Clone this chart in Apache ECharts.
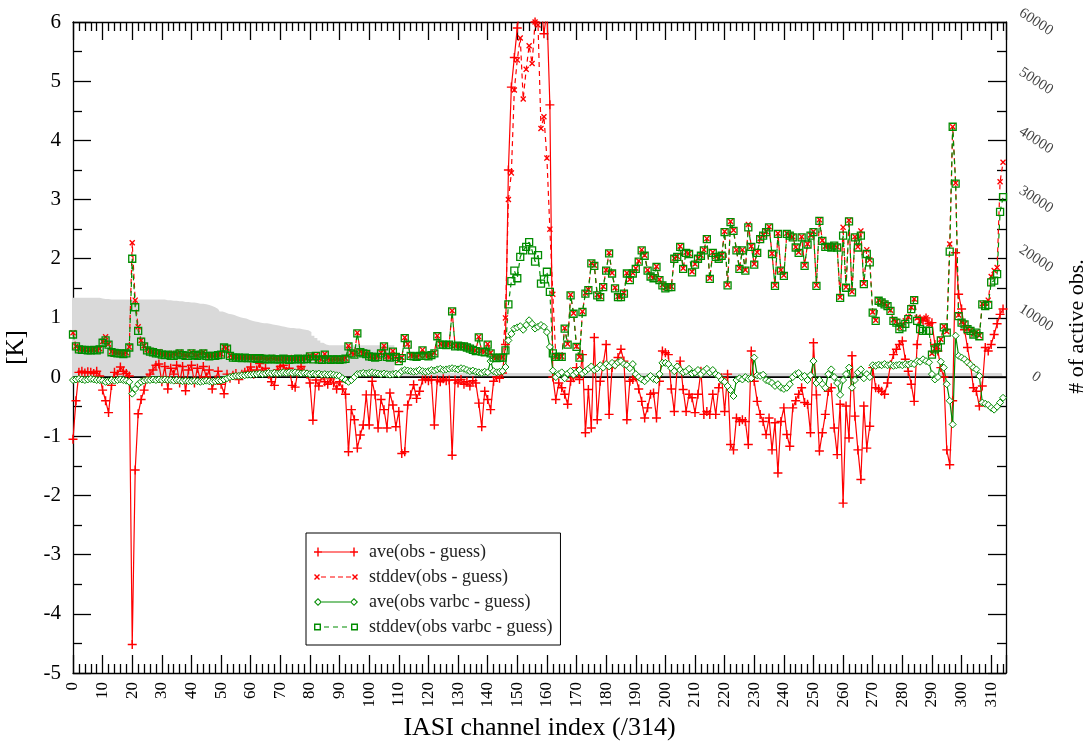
<!DOCTYPE html>
<html>
<head>
<meta charset="utf-8">
<title>IASI channel statistics</title>
<script src="https://cdn.jsdelivr.net/npm/echarts@6/dist/echarts.min.js"></script>
<style>
html, body { margin: 0; padding: 0; background: #fff; }
#chart { width: 1083px; height: 744px; }
</style>
</head>
<body>
<div id="chart"></div>
<script>
// channel index 0..314
const channels = Array.from({length: 315}, (_, i) => i);

// ave(obs - guess) [K]
const aveObs = [
  -1.05, -0.40, 0.08, 0.10, 0.07, 0.09, 0.08, 0.06, 0.10, 0.02,
  -0.22, -0.40, -0.60, -0.14, 0.08, 0.05, 0.17, 0.10, 0.06, 0.02,
  -4.52, -1.57, -0.62, -0.38, -0.22, -0.02, 0.05, 0.12, 0.20, 0.22,
  -0.08, 0.18, -0.20, 0.15, 0.05, 0.20, -0.10, 0.18, -0.23, 0.12,
  0.20, -0.10, 0.15, -0.05, 0.18, 0.00, 0.12, -0.20, -0.05, 0.10,
  -0.12, -0.28, 0.05, -0.02, 0.03, 0.06, -0.04, 0.05, 0.08, 0.10,
  0.17, 0.05, 0.12, 0.23, 0.10, 0.15, 0.05, -0.08, -0.14, 0.12,
  0.18, 0.20, 0.10, 0.15, -0.14, -0.17, 0.12, 0.18, 0.10, 0.05,
  -0.10, -0.73, -0.05, -0.15, 0.02, -0.08, -0.12, -0.03, -0.10, -0.20,
  -0.08, -0.20, -0.29, -1.26, -0.55, -0.72, -1.20, -0.98, -0.81, -0.30,
  -0.81, -0.07, -0.30, -0.86, -0.38, -0.55, -0.86, -0.27, -0.47, -0.84,
  -0.58, -1.29, -1.26, -0.47, -0.30, -0.13, -0.36, -0.24, -0.05, -0.03,
  -0.06, -0.04, -0.81, -0.05, -0.08, -0.03, -0.06, -0.05, -1.32, -0.05,
  -0.10, -0.04, -0.12, -0.08, -0.15, -0.06, -0.10, -0.44, -0.84, -0.24,
  -0.38, -0.55, -0.07, 0.00, -0.02, 0.07, 0.55, 3.50, 4.90, 5.40,
  5.90, 6.30, 6.50, 6.40, 6.60, 6.20, 6.00, 6.50, 6.30, 5.80,
  6.20, 4.60, 0.00, -0.38, -0.10, -0.18, -0.29, -0.46, -0.07, -0.01,
  0.16, -0.04, 0.38, -0.94, -0.21, -0.86, 0.67, -0.72, -0.07, 0.21,
  0.55, -0.63, 0.16, 0.21, 0.33, 0.47, 0.27, -0.72, -0.07, -0.04,
  0.00, -0.20, -0.41, -0.69, -0.52, -0.29, -0.27, -0.69, -0.07, 0.44,
  0.41, 0.38, -0.20, -0.58, 0.16, 0.27, -0.21, -0.58, -0.29, -0.35,
  -0.60, -0.29, 0.10, -0.63, -0.58, -0.63, -0.29, -0.63, -0.18, -0.01,
  -0.58, 0.05, -1.14, -1.23, -0.69, -0.75, -0.72, -0.75, -1.14, 0.44,
  -0.07, -0.41, -0.63, -0.75, -0.97, -0.69, -1.23, -0.77, -1.62, -0.75,
  -0.52, -0.97, -1.17, -0.52, -0.40, -0.29, -0.18, -0.43, -0.46, -0.94,
  0.58, -0.30, -1.25, -0.94, -0.63, -0.24, -0.18, -0.86, -1.31, -0.46,
  -2.13, -0.49, -1.03, 0.36, -0.66, -1.23, -1.73, -0.49, -1.20, -0.83,
  0.16, -0.18, -0.20, -0.24, -0.29, -0.10, 0.21, 0.38, 0.47, 0.55,
  0.61, 0.30, 0.10, -0.12, -0.41, 0.55, 0.98, 0.95, 1.00, 0.90,
  0.92, 0.55, 0.44, 0.16, 0.00, -1.23, -1.48, -0.40, 2.10, 1.40,
  1.15, 0.80, 0.50, 0.21, -0.18, -0.24, -0.49, -0.15, 0.50, 0.44,
  0.55, 0.72, 0.90, 1.06, 1.15
];

// stddev(obs - guess) [K]
const sdObs = [
  0.75, 0.52, 0.48, 0.47, 0.47, 0.46, 0.46, 0.47, 0.46, 0.48,
  0.60, 0.68, 0.56, 0.43, 0.42, 0.41, 0.41, 0.40, 0.41, 0.51,
  2.27, 1.30, 0.85, 0.62, 0.53, 0.46, 0.45, 0.43, 0.42, 0.43,
  0.40, 0.38, 0.40, 0.37, 0.40, 0.39, 0.42, 0.38, 0.37, 0.38,
  0.42, 0.38, 0.37, 0.40, 0.42, 0.37, 0.36, 0.38, 0.37, 0.38,
  0.39, 0.51, 0.49, 0.37, 0.34, 0.34, 0.34, 0.33, 0.34, 0.33,
  0.33, 0.33, 0.32, 0.33, 0.33, 0.32, 0.31, 0.33, 0.32, 0.31,
  0.31, 0.32, 0.31, 0.33, 0.31, 0.32, 0.32, 0.31, 0.33, 0.32,
  0.36, 0.32, 0.37, 0.31, 0.30, 0.39, 0.31, 0.30, 0.31, 0.31,
  0.30, 0.31, 0.32, 0.53, 0.41, 0.39, 0.75, 0.43, 0.41, 0.40,
  0.36, 0.35, 0.34, 0.35, 0.41, 0.53, 0.35, 0.34, 0.44, 0.35,
  0.28, 0.33, 0.67, 0.56, 0.37, 0.36, 0.35, 0.37, 0.46, 0.37,
  0.36, 0.38, 0.41, 0.70, 0.56, 0.56, 0.55, 0.56, 1.12, 0.53,
  0.54, 0.53, 0.53, 0.51, 0.49, 0.47, 0.45, 0.68, 0.44, 0.43,
  0.56, 0.41, 0.34, 0.33, 0.34, 0.34, 1.00, 3.00, 3.45, 4.85,
  5.36, 5.73, 4.70, 5.20, 5.60, 5.30, 6.00, 5.95, 4.20, 4.40,
  3.70, 2.50, 1.40, 0.35, 0.35, 0.35, 0.83, 0.56, 1.39, 1.08,
  0.52, 0.34, 1.11, 1.42, 1.48, 1.93, 1.89, 1.39, 1.36, 1.53,
  1.81, 2.10, 1.76, 1.51, 1.36, 1.36, 1.42, 1.76, 1.65, 1.76,
  1.84, 1.96, 2.15, 2.06, 1.81, 1.71, 1.68, 1.87, 1.65, 1.56,
  1.51, 1.53, 1.53, 2.01, 2.04, 2.21, 1.84, 2.11, 2.09, 1.78,
  1.91, 2.01, 2.06, 2.15, 2.34, 1.67, 2.11, 2.04, 2.01, 2.06,
  2.46, 1.56, 2.63, 2.48, 2.15, 1.84, 2.15, 1.81, 2.58, 2.21,
  1.91, 2.11, 2.34, 2.40, 2.46, 2.54, 2.09, 1.55, 2.43, 1.81,
  1.72, 2.43, 2.40, 2.37, 2.20, 2.11, 2.37, 1.89, 2.25, 2.40,
  2.46, 1.55, 2.66, 2.31, 2.21, 2.21, 2.20, 2.23, 2.20, 1.35,
  2.53, 1.52, 2.65, 1.44, 2.37, 2.20, 2.47, 1.58, 2.15, 1.98,
  1.10, 0.96, 1.30, 1.27, 1.24, 1.21, 1.13, 0.97, 0.94, 0.84,
  0.88, 0.95, 1.02, 1.18, 1.32, 1.00, 0.95, 0.98, 1.00, 0.90,
  0.40, 0.48, 0.51, 0.64, 0.86, 0.77, 2.25, 4.23, 3.28, 1.05,
  0.93, 0.90, 0.82, 0.79, 0.73, 0.76, 0.70, 1.24, 1.25, 1.30,
  1.70, 1.80, 1.85, 3.30, 3.63
];

// ave(obs varbc - guess) [K]
const aveVarbc = [
  -0.05, -0.04, -0.03, -0.04, -0.05, -0.04, -0.03, -0.04, -0.05, -0.05,
  -0.06, -0.08, -0.07, -0.05, -0.06, -0.05, -0.04, -0.05, -0.06, -0.08,
  -0.28, -0.20, -0.12, -0.08, -0.06, -0.05, -0.05, -0.04, -0.05, -0.04,
  -0.05, -0.04, -0.05, -0.05, -0.06, -0.05, -0.06, -0.07, -0.06, -0.07,
  -0.07, -0.06, -0.07, -0.08, -0.07, -0.06, -0.07, -0.08, -0.07, -0.06,
  -0.06, -0.04, -0.02, 0.00, 0.01, 0.02, 0.02, 0.03, 0.03, 0.04,
  0.04, 0.05, 0.05, 0.06, 0.05, 0.06, 0.07, 0.06, 0.07, 0.06,
  0.07, 0.08, 0.07, 0.08, 0.07, 0.08, 0.07, 0.06, 0.07, 0.06,
  0.05, 0.06, 0.05, 0.06, 0.04, 0.05, 0.04, 0.05, 0.04, 0.03,
  0.02, -0.02, -0.05, -0.08, -0.05, 0.00, 0.05, 0.06, 0.07, 0.06,
  0.07, 0.08, 0.07, 0.06, 0.05, 0.06, 0.05, 0.04, 0.05, 0.06,
  0.05, 0.10, 0.12, 0.11, 0.10, 0.09, 0.10, 0.12, 0.10, 0.09,
  0.10, 0.12, 0.11, 0.13, 0.14, 0.12, 0.13, 0.14, 0.15, 0.14,
  0.13, 0.15, 0.14, 0.12, 0.10, 0.11, 0.09, 0.08, 0.07, 0.09,
  0.08, 0.27, 0.10, 0.08, 0.09, 0.10, 0.17, 0.62, 0.73, 0.82,
  0.84, 0.86, 0.80, 0.88, 0.96, 0.90, 0.82, 0.85, 0.88, 0.85,
  0.76, 0.51, 0.11, 0.00, 0.05, 0.08, -0.02, 0.06, 0.10, 0.04,
  0.08, 0.12, 0.06, 0.10, 0.14, 0.18, 0.12, 0.15, 0.20, 0.16,
  0.22, 0.18, 0.24, 0.20, 0.25, 0.27, 0.22, 0.20, 0.15, 0.22,
  0.05, 0.00, -0.04, -0.07, -0.02, 0.02, -0.03, -0.05, 0.05, 0.24,
  0.24, 0.22, 0.15, 0.10, 0.18, 0.12, 0.08, 0.10, 0.14, 0.06,
  0.08, 0.12, 0.05, 0.10, 0.14, 0.08, 0.12, 0.05, 0.02, -0.05,
  -0.08, -0.15, -0.22, -0.32, -0.05, -0.02, -0.04, 0.00, -0.03, -0.02,
  0.33, 0.03, 0.02, 0.04, -0.05, -0.07, -0.10, -0.15, -0.12, -0.18,
  -0.20, -0.18, -0.12, 0.00, 0.05, 0.07, 0.00, 0.02, -0.05, 0.03,
  0.27, -0.10, -0.05, -0.12, -0.18, 0.05, 0.13, 0.00, -0.10, -0.30,
  -0.05, 0.05, 0.16, -0.18, -0.05, 0.08, 0.13, -0.02, 0.05, 0.00,
  0.20, 0.19, 0.21, 0.20, 0.22, 0.20, 0.21, 0.19, 0.20, 0.21,
  0.20, 0.22, 0.21, 0.23, 0.22, 0.27, 0.26, 0.30, 0.27, 0.25,
  0.05, -0.04, 0.00, 0.26, 0.16, -0.12, -0.40, -0.80, 0.70, 0.36,
  0.33, 0.30, 0.25, 0.21, 0.16, 0.13, 0.02, -0.43, -0.45, -0.47,
  -0.52, -0.55, -0.50, -0.43, -0.35
];

// stddev(obs varbc - guess) [K]
const sdVarbc = [
  0.72, 0.52, 0.47, 0.46, 0.46, 0.45, 0.45, 0.46, 0.45, 0.47,
  0.58, 0.62, 0.55, 0.42, 0.41, 0.40, 0.40, 0.39, 0.40, 0.50,
  2.00, 1.18, 0.78, 0.60, 0.52, 0.45, 0.43, 0.42, 0.40, 0.40,
  0.38, 0.37, 0.38, 0.36, 0.36, 0.38, 0.40, 0.37, 0.36, 0.36,
  0.40, 0.37, 0.36, 0.38, 0.40, 0.36, 0.35, 0.36, 0.36, 0.37,
  0.38, 0.50, 0.48, 0.36, 0.33, 0.33, 0.33, 0.32, 0.33, 0.32,
  0.32, 0.32, 0.31, 0.32, 0.31, 0.30, 0.30, 0.31, 0.30, 0.30,
  0.30, 0.31, 0.30, 0.29, 0.30, 0.30, 0.31, 0.30, 0.30, 0.31,
  0.35, 0.30, 0.36, 0.30, 0.29, 0.38, 0.30, 0.29, 0.30, 0.30,
  0.29, 0.30, 0.31, 0.52, 0.40, 0.38, 0.74, 0.42, 0.40, 0.39,
  0.35, 0.34, 0.33, 0.34, 0.40, 0.52, 0.34, 0.33, 0.43, 0.34,
  0.27, 0.32, 0.66, 0.55, 0.36, 0.35, 0.34, 0.36, 0.45, 0.36,
  0.35, 0.37, 0.40, 0.69, 0.55, 0.55, 0.54, 0.55, 1.11, 0.52,
  0.53, 0.52, 0.52, 0.50, 0.48, 0.46, 0.44, 0.67, 0.43, 0.42,
  0.55, 0.40, 0.33, 0.32, 0.33, 0.33, 0.45, 1.23, 1.62, 1.80,
  1.67, 2.03, 2.14, 2.20, 2.28, 2.14, 1.95, 2.06, 1.58, 1.65,
  1.78, 1.44, 0.40, 0.34, 0.34, 0.34, 0.82, 0.55, 1.38, 1.07,
  0.51, 0.33, 1.10, 1.41, 1.47, 1.92, 1.88, 1.38, 1.35, 1.52,
  1.80, 2.09, 1.75, 1.50, 1.35, 1.35, 1.41, 1.75, 1.64, 1.75,
  1.83, 1.95, 2.14, 2.05, 1.80, 1.70, 1.67, 1.86, 1.64, 1.55,
  1.50, 1.52, 1.52, 2.00, 2.03, 2.20, 1.83, 2.10, 2.08, 1.77,
  1.90, 2.00, 2.05, 2.14, 2.33, 1.66, 2.10, 2.03, 2.00, 2.05,
  2.45, 1.55, 2.62, 2.47, 2.14, 1.83, 2.14, 1.80, 2.53, 2.20,
  1.90, 2.10, 2.33, 2.39, 2.45, 2.53, 2.08, 1.54, 2.42, 1.80,
  1.71, 2.42, 2.39, 2.36, 2.19, 2.10, 2.36, 1.88, 2.24, 2.39,
  2.45, 1.54, 2.64, 2.30, 2.20, 2.20, 2.19, 2.22, 2.19, 1.34,
  2.39, 1.51, 2.63, 1.43, 2.36, 2.19, 2.39, 1.57, 2.08, 1.94,
  1.09, 0.95, 1.29, 1.26, 1.23, 1.20, 1.12, 0.95, 0.92, 0.81,
  0.84, 0.90, 0.98, 1.15, 1.30, 0.95, 0.81, 0.78, 0.78, 0.78,
  0.38, 0.47, 0.50, 0.62, 0.84, 0.75, 2.12, 4.23, 3.27, 1.03,
  0.92, 0.89, 0.81, 0.78, 0.72, 0.75, 0.69, 1.23, 1.20, 1.22,
  1.60, 1.63, 1.74, 2.79, 3.04
];

// # of active obs (right axis)
const activeObs = [
  13400, 13400, 13400, 13400, 13400, 13400, 13400, 13400, 13400, 13400,
  13300, 13200, 13200, 13100, 13100, 13100, 13100, 13100, 13100, 13100,
  13100, 13100, 13100, 13100, 13100, 13100, 13100, 13100, 13100, 13100,
  13100, 13100, 13000, 13000, 12900, 12900, 12800, 12800, 12700, 12700,
  12600, 12600, 12500, 12400, 12400, 12300, 12200, 12000, 11800, 11500,
  11100, 10900, 10700, 10600, 10500, 10300, 10100, 10000, 9900, 9700,
  9500, 9400, 9300, 9200, 9100, 9100, 9000, 8900, 8800, 8700,
  8600, 8500, 8400, 8300, 8300, 8200, 8200, 8100, 8000, 7900,
  7600, 7000, 6600, 6200, 5800, 5500, 5400, 5400, 5400, 5400,
  5400, 5400, 5400, 5400, 5400, 5400, 5400, 5400, 5400, 5400,
  5400, 5400, 5400, 5400, 5400, 5400, 5400, 5400, 5400, 700,
  700, 700, 700, 700, 700, 700, 700, 700, 700, 700,
  700, 700, 700, 700, 700, 700, 700, 700, 700, 700,
  700, 700, 700, 700, 700, 700, 700, 700, 700, 700,
  700, 700, 700, 700, 700, 700, 700, 700, 700, 700,
  700, 700, 700, 700, 700, 700, 700, 700, 700, 700,
  700, 700, 700, 700, 700, 700, 700, 700, 700, 700,
  700, 700, 700, 700, 700, 700, 700, 700, 700, 700,
  700, 700, 700, 700, 700, 700, 700, 700, 700, 700,
  700, 700, 700, 700, 700, 700, 700, 700, 700, 700,
  700, 700, 700, 700, 700, 700, 700, 700, 700, 700,
  700, 700, 700, 700, 700, 700, 700, 700, 700, 700,
  700, 700, 700, 700, 700, 700, 700, 700, 700, 700,
  700, 700, 700, 700, 700, 700, 700, 700, 700, 700,
  700, 700, 700, 700, 700, 700, 700, 700, 700, 700,
  700, 700, 700, 700, 700, 700, 700, 700, 700, 700,
  700, 700, 700, 700, 700, 700, 700, 700, 700, 700,
  700, 700, 700, 700, 700, 700, 700, 700, 700, 700,
  700, 700, 700, 700, 700, 700, 700, 700, 700, 700,
  700, 700, 700, 700, 700, 700, 700, 700, 700, 700,
  700, 700, 700, 700, 700, 700, 700, 700, 700, 700,
  700, 700, 700, 700, 700
];

const seriesNames = ['ave(obs - guess)', 'stddev(obs - guess)', 'ave(obs varbc - guess)', 'stddev(obs varbc - guess)'];

const RED = '#ff0000';
const GREEN = '#008c00';
const FONT = 'Liberation Serif';
const PLUS = 'path://M0,4.2H10V5.8H0Z M4.2,0H5.8V10H4.2Z';
const CROSS = 'path://M1.6,0L5,3.4L8.4,0L10,1.6L6.6,5L10,8.4L8.4,10L5,6.6L1.6,10L0,8.4L3.4,5L0,1.6Z';

// legend samples: line with a marker at each end (44 x 10 box)
const ICON_AVE_OBS = 'path://M0,4.4H44V5.6H0Z M0,4.3H8V5.7H0Z M3.3,0.5H4.7V9.5H3.3Z M36,4.3H44V5.7H36Z M39.3,0.5H40.7V9.5H39.3Z';
const ICON_SD_OBS = 'path://M7,4.4H12V5.6H7Z M16,4.4H21V5.6H16Z M24,4.4H29V5.6H24Z M32,4.4H37V5.6H32Z ' +
  'M1,2L3,4L5,2L6,3L4,5L6,7L5,8L3,6L1,8L0,7L2,5L0,3Z ' +
  'M39,2L41,4L43,2L44,3L42,5L44,7L43,8L41,6L39,8L38,7L40,5L38,3Z';
const ICON_AVE_VARBC = 'path://M8,4.4H36V5.6H8Z M4,1L8,5L4,9L0,5Z M4,2.5L1.5,5L4,7.5L6.5,5Z ' +
  'M40,1L44,5L40,9L36,5Z M40,2.5L37.5,5L40,7.5L42.5,5Z';
const ICON_SD_VARBC = 'path://M10,4.4H15V5.6H10Z M19,4.4H24V5.6H19Z M28,4.4H33V5.6H28Z ' +
  'M0,1.5H7V8.5H0Z M1.4,2.9V7.1H5.6V2.9Z M37,1.5H44V8.5H37Z M38.4,2.9V7.1H42.6V2.9Z';

function pairs(arr) {
  return channels.map(i => [i, arr[i]]);
}

const chart = echarts.init(document.getElementById('chart'));

const tickStyle = {lineStyle: {color: '#000', width: 1.3}};

chart.setOption({
  animation: false,
  backgroundColor: '#fff',
  grid: {left: 73, right: 77, top: 22, bottom: 71, containLabel: false, outerBoundsMode: 'none'},
  legend: {
    data: [
      {name: seriesNames[0], icon: ICON_AVE_OBS, itemStyle: {color: RED, borderWidth: 0}},
      {name: seriesNames[1], icon: ICON_SD_OBS, itemStyle: {color: RED, borderWidth: 0}},
      {name: seriesNames[2], icon: ICON_AVE_VARBC, itemStyle: {color: GREEN, borderWidth: 0}},
      {name: seriesNames[3], icon: ICON_SD_VARBC, itemStyle: {color: GREEN, borderWidth: 0}}
    ],
    orient: 'vertical',
    left: 306,
    top: 533,
    itemWidth: 44,
    itemHeight: 10,
    itemGap: 7,
    padding: [10, 8, 9, 8],
    backgroundColor: '#fff',
    borderColor: '#000',
    borderWidth: 1,
    borderRadius: 0,
    textStyle: {fontFamily: FONT, fontSize: 18, color: '#222', padding: [0, 0, 0, 6]}
  },
  xAxis: [
    {
      type: 'value', min: 0, max: 315, interval: 10,
      name: 'IASI channel index (/314)',
      nameLocation: 'middle', nameGap: 30,
      nameTextStyle: {fontFamily: FONT, fontSize: 26, color: '#000'},
      axisLine: {onZero: false, lineStyle: {color: '#000', width: 1.3}},
      axisTick: {inside: true, length: 18, ...tickStyle},
      minorTick: {show: true, splitNumber: 5, length: 9, ...tickStyle},
      axisLabel: {rotate: 90, fontFamily: FONT, fontSize: 17, color: '#000', margin: 9, showMaxLabel: false},
      splitLine: {show: false}
    },
    {
      type: 'value', min: 0, max: 315, interval: 10, position: 'top',
      axisLine: {onZero: false, lineStyle: {color: '#000', width: 1.3}},
      axisTick: {inside: true, length: 18, ...tickStyle},
      minorTick: {show: true, splitNumber: 5, length: 9, ...tickStyle},
      axisLabel: {show: false},
      splitLine: {show: false}
    }
  ],
  yAxis: [
    {
      type: 'value', min: -5, max: 6, interval: 1,
      name: '[K]', nameLocation: 'middle', nameGap: 44, nameRotate: 90,
      nameTextStyle: {fontFamily: FONT, fontSize: 25, color: '#000'},
      axisLine: {onZero: false, lineStyle: {color: '#000', width: 1.3}},
      axisTick: {inside: true, length: 18, ...tickStyle},
      minorTick: {show: true, splitNumber: 2, length: 9, ...tickStyle},
      axisLabel: {fontFamily: FONT, fontSize: 21, color: '#000', margin: 12},
      splitLine: {show: false}
    },
    {
      type: 'value', min: -50000, max: 60000, interval: 10000, position: 'right',
      name: '# of active obs.', nameLocation: 'middle', nameGap: 51, nameRotate: 90,
      nameTextStyle: {fontFamily: FONT, fontSize: 22, color: '#000', padding: [0, 0, 0, 42]},
      axisLine: {onZero: false, lineStyle: {color: '#000', width: 1.3}},
      axisTick: {inside: true, length: 18, ...tickStyle},
      minorTick: {show: true, splitNumber: 2, length: 9, ...tickStyle},
      axisLabel: {
        rotate: -33, align: 'center', verticalAlign: 'middle', margin: 30,
        fontFamily: FONT, fontSize: 15, color: '#444',
        formatter: v => (v < 0 ? '' : String(v))
      },
      splitLine: {show: false}
    }
  ],
  series: [
    {
      name: 'active obs', type: 'line', yAxisIndex: 1, step: 'middle',
      data: pairs(activeObs), symbol: 'none',
      lineStyle: {width: 0, color: '#d9d9d9'},
      areaStyle: {color: '#d9d9d9', opacity: 1},
      silent: true
    },
    {
      name: 'zero', type: 'line', data: [[0, 0], [315, 0]], symbol: 'none',
      lineStyle: {color: '#000', width: 1.6}, silent: true
    },
    {
      name: seriesNames[0], type: 'line', data: pairs(aveObs),
      symbol: PLUS, symbolSize: 9,
      itemStyle: {color: RED},
      lineStyle: {color: RED, width: 1.2}
    },
    {
      name: seriesNames[1], type: 'line', data: pairs(sdObs),
      symbol: CROSS, symbolSize: 6,
      itemStyle: {color: RED},
      lineStyle: {color: RED, width: 1.2, type: [5, 4]}
    },
    {
      name: seriesNames[2], type: 'line', data: pairs(aveVarbc),
      symbol: 'diamond', symbolSize: 7,
      itemStyle: {color: '#fff', borderColor: GREEN, borderWidth: 1},
      lineStyle: {color: GREEN, width: 1.2}
    },
    {
      name: seriesNames[3], type: 'line', data: pairs(sdVarbc),
      symbol: 'rect', symbolSize: 7,
      itemStyle: {color: 'rgba(0,0,0,0)', borderColor: GREEN, borderWidth: 1.3},
      lineStyle: {color: GREEN, width: 1.2, type: [5, 4]}
    }
  ]
});
</script>
</body>
</html>
